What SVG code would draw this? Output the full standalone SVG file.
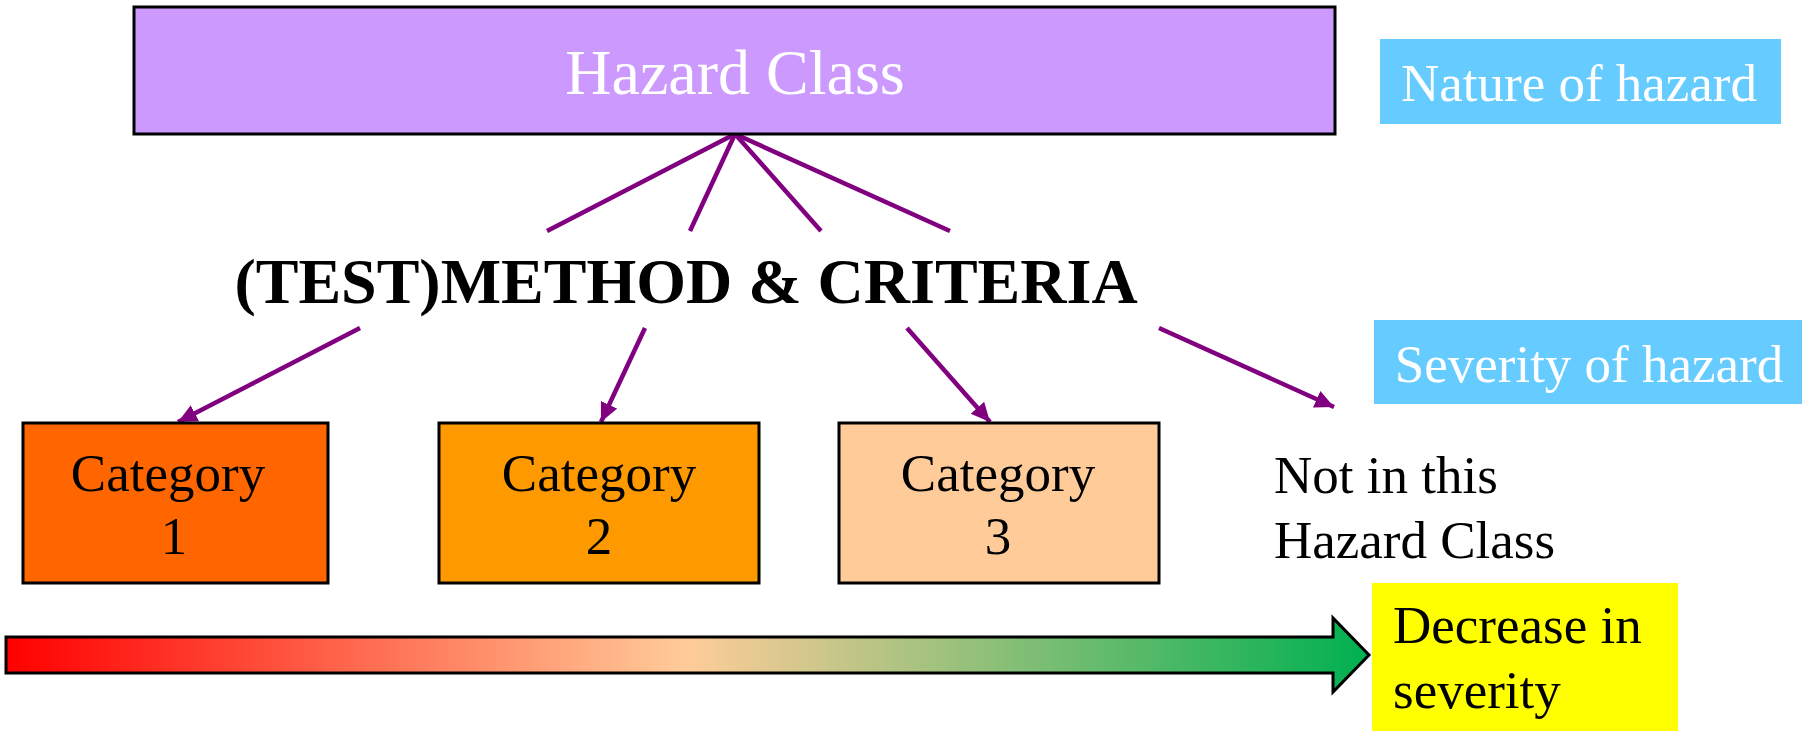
<svg xmlns="http://www.w3.org/2000/svg" width="1802" height="731" viewBox="0 0 1802 731">
<defs>
<style>
.t{font-family:"Liberation Serif","Times New Roman",serif;}
.box{stroke:#000;stroke-width:3;}
.con{stroke:#800080;stroke-width:4.5;fill:none;}
.w{fill:#fff;}
.k{fill:#000;}
</style>
<marker id="ah" markerUnits="userSpaceOnUse" markerWidth="22" markerHeight="20" refX="19" refY="9" orient="auto">
<path d="M0,0 L19,9 L0,18 Z" fill="#800080"/>
</marker>
<linearGradient id="grad" gradientUnits="userSpaceOnUse" x1="6" y1="0" x2="1369" y2="0">
<stop offset="0" stop-color="#FF0000"/>
<stop offset="0.5" stop-color="#FFCC99"/>
<stop offset="1" stop-color="#00B050"/>
</linearGradient>
</defs>
<rect width="1802" height="731" fill="#fff"/>

<g id="connectors">
<line class="con" x1="735" y1="134" x2="547" y2="231"/>
<line class="con" x1="360" y1="328" x2="178" y2="422" marker-end="url(#ah)"/>
<line class="con" x1="735" y1="134" x2="690" y2="231"/>
<line class="con" x1="645" y1="328" x2="601" y2="422" marker-end="url(#ah)"/>
<line class="con" x1="735" y1="134" x2="821" y2="231"/>
<line class="con" x1="907" y1="328" x2="990" y2="422" marker-end="url(#ah)"/>
<line class="con" x1="735" y1="134" x2="950" y2="231"/>
<line class="con" x1="1159" y1="328" x2="1334" y2="407" marker-end="url(#ah)"/>
</g>

<g id="hazard-class">
<rect class="box" x="134" y="7" width="1201" height="127" fill="#CC99FF"/>
<text class="t w" x="735" y="94" font-size="64" text-anchor="middle">Hazard Class</text>
</g>

<g id="nature">
<rect x="1380" y="39" width="401" height="85" fill="#66CCFF"/>
<text class="t w" x="1579" y="101" font-size="53" text-anchor="middle">Nature of hazard</text>
</g>

<g id="method">
<text class="t k" x="686" y="303" font-size="64" font-weight="bold" text-anchor="middle">(TEST)METHOD &amp; CRITERIA</text>
</g>

<g id="severity">
<rect x="1374" y="320" width="428" height="84" fill="#66CCFF"/>
<text class="t w" x="1589" y="382" font-size="53" text-anchor="middle">Severity of hazard</text>
</g>

<g id="category1">
<rect class="box" x="23" y="423" width="305" height="160" fill="#FF6600"/>
<text class="t k" font-size="53" text-anchor="middle"><tspan x="168" y="491">Category</tspan><tspan x="174" y="554">1</tspan></text>
</g>

<g id="category2">
<rect class="box" x="439" y="423" width="320" height="160" fill="#FF9900"/>
<text class="t k" font-size="53" text-anchor="middle"><tspan x="599" y="491">Category</tspan><tspan x="599" y="554">2</tspan></text>
</g>

<g id="category3">
<rect class="box" x="839" y="423" width="320" height="160" fill="#FFCC99"/>
<text class="t k" font-size="53" text-anchor="middle"><tspan x="998" y="491">Category</tspan><tspan x="998" y="554">3</tspan></text>
</g>

<g id="not-in-class">
<text class="t k" font-size="53"><tspan x="1274" y="493">Not in this</tspan><tspan x="1274" y="558">Hazard Class</tspan></text>
</g>

<g id="severity-arrow">
<path d="M6,637 L1333,637 L1333,618 L1369,655 L1333,692 L1333,673 L6,673 Z" fill="url(#grad)" stroke="#000" stroke-width="3" stroke-linejoin="miter"/>
</g>

<g id="decrease">
<rect x="1372" y="583" width="306" height="148" fill="#FFFF00"/>
<text class="t k" font-size="53"><tspan x="1393" y="643">Decrease in</tspan><tspan x="1393" y="708">severity</tspan></text>
</g>
</svg>
